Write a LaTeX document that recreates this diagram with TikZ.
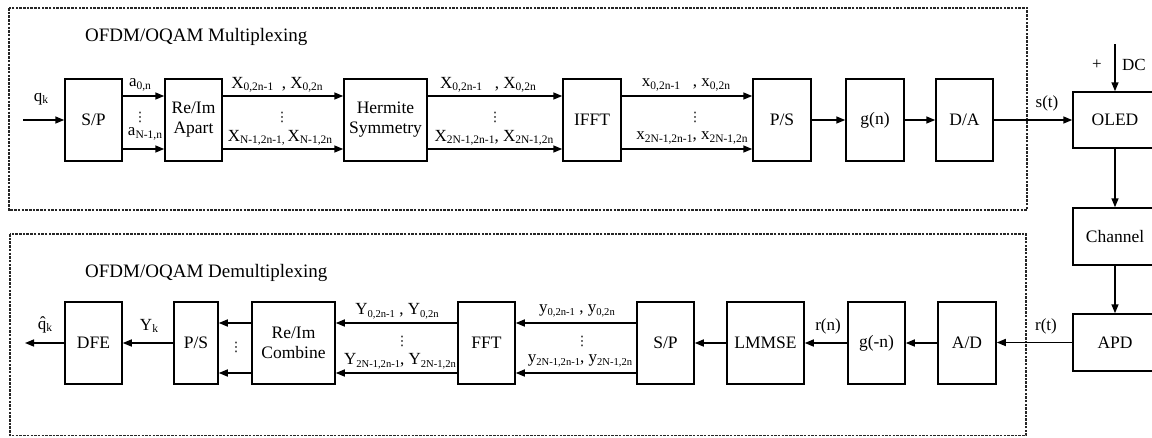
\documentclass[tikz,border=0pt]{standalone}
\usepackage{fontspec}
\setmainfont{Liberation Serif}
\newfontfamily\dejavu{DejaVu Sans}
\usetikzlibrary{arrows.meta,calc}
\newcommand{\sbx}[2]{#1\raisebox{-2.5pt}{\fontsize{11.5}{12}\selectfont #2}}
\newcommand{\sby}[2]{#1\raisebox{-2.5pt}{\fontsize{10.6}{11}\selectfont #2}}
\tikzset{
 blk/.style={draw, line width=1.5pt, inner sep=0pt, font=\fontsize{17.5}{20}\selectfont, align=center},
 arr/.style={line width=1.5pt, -{Triangle[length=9pt,width=7pt]}},
 lbl/.style={inner sep=0pt, font=\fontsize{17}{19}\selectfont},
 grp/.style={line width=1.2pt, dash pattern=on 2.5pt off 1.2pt, draw=black!85},
 ttl/.style={inner sep=0pt, anchor=west, font=\fontsize{19}{21}\selectfont},
 dts/.style={inner sep=0pt, font=\dejavu\fontsize{13}{14}\selectfont},
}
\begin{document}
\begin{tikzpicture}[x=1pt,y=-1pt]
\useasboundingbox (0,0) rectangle (1152,437);
% group frames
\draw[grp] (9,8) rectangle (1027,210);
\draw[grp] (10,234) rectangle (1026,435.5);
\node[ttl] (t1) at (85,37) {OFDM/OQAM Multiplexing};
\node[ttl] (t2) at (85,273) {OFDM/OQAM Demultiplexing};
% helper rows
\coordinate (ya) at (0,96);
\coordinate (yb) at (0,149);
\coordinate (yc) at (0,323);
\coordinate (yd) at (0,373);
\coordinate (qin) at (23,120);
\coordinate (qout) at (25,343);
\coordinate (dcin) at (1115,44);
% top row blocks
\node[blk, minimum width=57pt, minimum height=82pt] (sp1) at (93.5,120) {S/P};
\node[blk, minimum width=57pt, minimum height=82pt] (reim1) at (193.5,120) {Re/Im\\Apart};
\node[blk, minimum width=83pt, minimum height=82pt] (herm) at (385.5,120) {Hermite\\Symmetry};
\node[blk, minimum width=58pt, minimum height=82pt] (ifft) at (592,120) {IFFT};
\node[blk, minimum width=58pt, minimum height=82pt] (ps1) at (782,120) {P/S};
\node[blk, minimum width=58pt, minimum height=82pt] (gn) at (875,120) {g(n)};
\node[blk, minimum width=57pt, minimum height=82pt] (da) at (964.5,120) {D/A};
% right column
\node[blk, minimum width=84pt, minimum height=56pt] (oled) at (1115,120) {OLED};
\node[blk, minimum width=84pt, minimum height=57pt] (chan) at (1115,236.5) {Channel};
\node[blk, minimum width=84pt, minimum height=57pt] (apd) at (1115,342.5) {APD};
% bottom row blocks
\node[blk, minimum width=57pt, minimum height=82pt] (dfe) at (93.5,343) {DFE};
\node[blk, minimum width=44pt, minimum height=82pt] (ps2) at (196,343) {P/S};
\node[blk, minimum width=83pt, minimum height=82pt] (comb) at (293.5,343) {Re/Im\\Combine};
\node[blk, minimum width=57pt, minimum height=82pt] (fft) at (486.5,343) {FFT};
\node[blk, minimum width=57pt, minimum height=82pt] (sp2) at (665.5,343) {S/P};
\node[blk, minimum width=77pt, minimum height=82pt] (lmmse) at (765.5,343) {LMMSE};
\node[blk, minimum width=57pt, minimum height=82pt] (gmn) at (876.5,343) {g(-n)};
\node[blk, minimum width=58pt, minimum height=82pt] (ad) at (967,343) {A/D};
% top row connectors
\draw[arr] (qin) -- (sp1.west);
\draw[arr] (sp1.east |- ya) -- (reim1.west |- ya);
\draw[arr] (sp1.east |- yb) -- (reim1.west |- yb);
\draw[arr] (reim1.east |- ya) -- (herm.west |- ya);
\draw[arr] (reim1.east |- yb) -- (herm.west |- yb);
\draw[arr] (herm.east |- ya) -- (ifft.west |- ya);
\draw[arr] (herm.east |- yb) -- (ifft.west |- yb);
\draw[arr] (ifft.east |- ya) -- (ps1.west |- ya);
\draw[arr] (ifft.east |- yb) -- (ps1.west |- yb);
\draw[arr] (ps1) -- (gn);
\draw[arr] (gn) -- (da);
\draw[arr] (da) -- (oled);
\draw[arr] (dcin) -- (oled.north);
\draw[arr] (oled) -- (chan);
\draw[arr] (chan) -- (apd);
% bottom row connectors
\draw[arr] (apd.west) -- (ad.east |- apd.west);
\draw[arr] (ad) -- (gmn);
\draw[arr] (gmn) -- (lmmse);
\draw[arr] (lmmse) -- (sp2);
\draw[arr] (sp2.west |- yc) -- (fft.east |- yc);
\draw[arr] (sp2.west |- yd) -- (fft.east |- yd);
\draw[arr] (fft.west |- yc) -- (comb.east |- yc);
\draw[arr] (fft.west |- yd) -- (comb.east |- yd);
\draw[arr] (comb.west |- yc) -- (ps2.east |- yc);
\draw[arr] (comb.west |- yd) -- (ps2.east |- yd);
\draw[arr] (ps2) -- (dfe);
\draw[arr] (dfe.west) -- (qout);
% top labels
\node[lbl] (lq) at (41,99) {\sbx{q}{k}};
\node[lbl] (la0) at (140,85) {\sbx{a}{0,n}};
\node[dts] (d1) at (140,117) {⋮};
\node[lbl] (laN) at (145,134) {\sbx{a}{N-1,n}};
\node[lbl] (lX1) at (277,85) {\sbx{X}{0,2n-1}\ \ , \sbx{X}{0,2n}};
\node[dts] (d2) at (282,117) {⋮};
\node[lbl] (lX1b) at (280,138) {\sbx{X}{N-1,2n-1,}\,\sbx{X}{N-1,2n}};
\node[lbl] (lX2) at (488,85) {\sbx{X}{0,2n-1}\ \ \ , \sbx{X}{0,2n}};
\node[dts] (d3) at (495,117) {⋮};
\node[lbl] (lX2b) at (494,138) {\sbx{X}{2N-1,2n-1}, \sbx{X}{2N-1,2n}};
\node[lbl] (lx3) at (686,85) {\sbx{x}{0,2n-1}\ \ \ , \sbx{x}{0,2n}};
\node[dts] (d4) at (695,117) {⋮};
\node[lbl] (lx3b) at (692,138) {\sbx{x}{2N-1,2n-1}, \sbx{x}{2N-1,2n}};
\node[lbl] (lst) at (1047,103) {s(t)};
\node[lbl] (lplus) at (1097,65) {+};
\node[lbl] (ldc) at (1134,65) {DC};
% bottom labels
\node[lbl] (lrt) at (1046,326) {r(t)};
\node[lbl] (lrn) at (828,326) {r(n)};
\node[lbl] (ly) at (577,311) {\sby{y}{0,2n-1}\ , \sby{y}{0,2n}};
\node[dts] (d5) at (582,341) {⋮};
\node[lbl] (lyb) at (580,361) {\sby{y}{2N-1,2n-1}, \sby{y}{2N-1,2n}};
\node[lbl] (lY) at (397,311) {\sby{Y}{0,2n-1}\ , \sby{Y}{0,2n}};
\node[dts] (d6) at (402,341) {⋮};
\node[lbl] (lYb) at (400,361) {\sby{Y}{2N-1,2n-1}, \sby{Y}{2N-1,2n}};
\node[dts] (d7) at (236,347) {⋮};
\node[lbl] (lYk) at (149,326) {\sbx{Y}{k}};
\node[lbl] (lqh) at (45,325) {\sbx{\^{q}}{k}};
\end{tikzpicture}
\end{document}
